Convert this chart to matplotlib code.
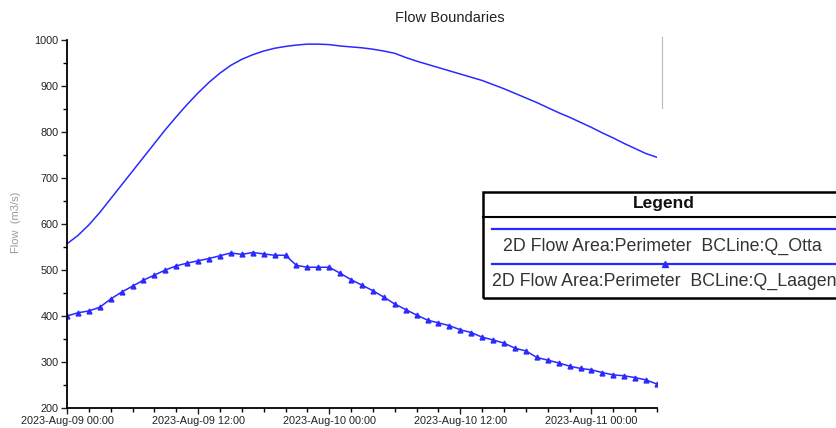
import matplotlib
matplotlib.use("Agg")
import matplotlib.pyplot as plt
import matplotlib.dates as mdates
from matplotlib.patches import Rectangle
from matplotlib.lines import Line2D
import pandas as pd

plt.rcParams['font.family'] = ['Liberation Sans', 'DejaVu Sans']

start = "2023-08-09 00:00"
q_otta = [557, 575, 598, 625, 655, 685, 715, 745, 775, 805, 833, 860, 885, 908,
          928, 945, 958, 968, 976, 982, 986, 989, 991, 991, 990, 987, 985, 983,
          980, 976, 971, 962, 954, 947, 940, 933, 926, 919, 912, 903, 894, 884,
          874, 864, 853, 842, 832, 821, 810, 798, 787, 775, 764, 753, 745]
q_laagen = [400, 407, 411, 419, 437, 452, 465, 478, 489, 500, 509, 515, 520, 525,
            531, 537, 534, 538, 535, 532, 532, 510, 506, 506, 506, 493, 479, 467,
            455, 441, 426, 414, 402, 391, 385, 379, 370, 364, 354, 348, 341, 330,
            324, 310, 304, 298, 291, 286, 283, 277, 272, 270, 266, 261, 252]
series_names = ["2D Flow Area:Perimeter  BCLine:Q_Otta",
                "2D Flow Area:Perimeter  BCLine:Q_Laagen"]
title = "Flow Boundaries"
ylabel = "Flow  (m3/s)"

times = pd.date_range(start, periods=len(q_otta), freq="h")
W, H = 836, 428
fig = plt.figure(figsize=(W / 100, H / 100), dpi=100)
ax = fig.add_axes([67 / W, 1 - 408 / H, (657 - 67) / W, (408 - 40) / H])
col = "#2a2aff"
ax.plot(times, q_otta, color=col, lw=1.1)
ax.plot(times, q_laagen, color=col, lw=1.1, marker="^", ms=3.5)

ax.set_ylim(200, 1000)
ax.set_xlim(times[0], times[-1])
ax.set_yticks(range(200, 1001, 100))
ax.yaxis.set_minor_locator(matplotlib.ticker.MultipleLocator(50))
ax.xaxis.set_major_locator(mdates.HourLocator(byhour=[0, 12]))
ax.xaxis.set_minor_locator(mdates.HourLocator(interval=2))
ax.xaxis.set_major_formatter(mdates.DateFormatter("%Y-%b-%d %H:%M"))
for s in ["top", "right"]:
    ax.spines[s].set_visible(False)
for s in ["left", "bottom"]:
    ax.spines[s].set_linewidth(1.3)
ax.tick_params(which="major", length=4, width=1, labelsize=7.8, colors="#222", pad=2)
ax.tick_params(which="minor", length=3, width=1)

fig.text(450 / W, 1 - 18 / H, title, ha="center", va="center", fontsize=10.5, color="#222")
fig.text(16 / W, 1 - 222 / H, ylabel, rotation=90, ha="center", va="center",
         fontsize=8, color="#999")

# artifact vertical gray line
fig.add_artist(Line2D([662 / W, 662 / W], [1 - 37 / H, 1 - 108 / H], color="#bbb", lw=0.8))

# legend box (clipped at figure edge)
tf = fig.transFigure
fig.add_artist(Rectangle((483 / W, 1 - 298 / H), 500 / W, (298 - 192) / H,
                         fill=False, ec="black", lw=1.8, transform=tf))
fig.add_artist(Line2D([483 / W, 1.2], [1 - 217 / H] * 2, color="black", lw=1.5))
fig.text(664 / W, 1 - 204 / H, "Legend", ha="center", va="center", fontsize=12.5,
         fontweight="bold", color="#111")
fig.add_artist(Line2D([492 / W, 1.2], [1 - 229 / H] * 2, color=col, lw=1.6))
fig.text(503 / W, 1 - 246 / H, series_names[0], ha="left", va="center",
         fontsize=12.8, color="#333")
fig.add_artist(Line2D([492 / W, 1.2], [1 - 264 / H] * 2, color=col, lw=1.6))
fig.add_artist(Line2D([665 / W], [1 - 264 / H], color=col, marker="^", ms=4))
fig.text(492 / W, 1 - 281 / H, series_names[1], ha="left", va="center",
         fontsize=12.8, color="#333")

fig.savefig("out.png", dpi=100)
